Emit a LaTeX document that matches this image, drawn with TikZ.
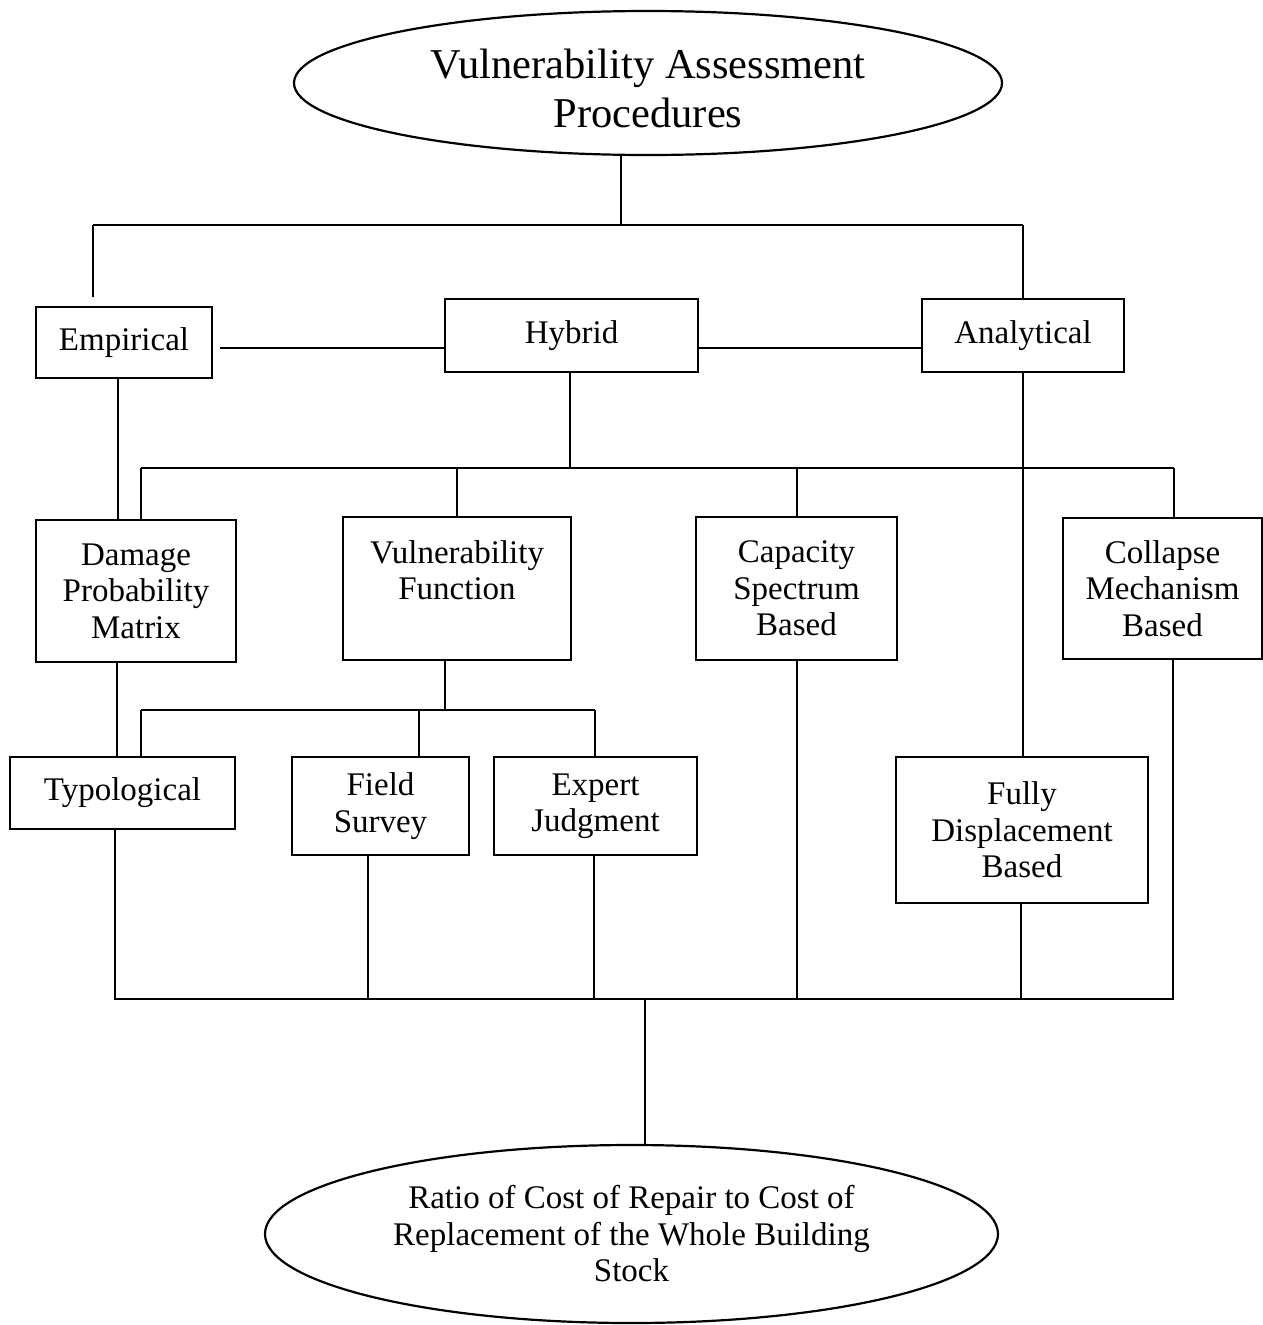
\documentclass[tikz,border=0pt]{standalone}
\usepackage{fontspec}
\setmainfont{Liberation Serif}
\usetikzlibrary{shapes.geometric}
\begin{document}
\begin{tikzpicture}[x=1pt,y=-1pt,
  box/.style={draw, rectangle, line width=2.8pt, inner sep=0pt, align=center,
    font=\fontsize{33}{36.5}\selectfont},
  oval/.style={draw, ellipse, line width=2.2pt, inner sep=0pt, align=center},
  conn/.style={line width=2.5pt}]
\useasboundingbox (0,0) rectangle (1263,1325);
\fill[white] (0,0) rectangle (1263,1325);

% ellipses
\node[oval, minimum width=708pt, minimum height=144pt,
  font=\fontsize{42.5}{49}\selectfont] (top) at (648,83) {\rule{0pt}{40pt}Vulnerability Assessment\\Procedures};
\node[oval, minimum width=733pt, minimum height=178pt,
  font=\fontsize{33}{36.5}\selectfont] (bot) at (631.5,1234) {Ratio of Cost of Repair to Cost of\\Replacement of the Whole Building\\Stock};

% level 1
\node[box, minimum width=176pt, minimum height=71pt] (emp) at (124,342.5) {Empirical};
\node[box, minimum width=253pt, minimum height=73pt] (hyb) at (571.5,335.5) {Hybrid};
\node[box, minimum width=202pt, minimum height=73pt] (ana) at (1023,335.5) {Analytical};

% level 2
\node[box, minimum width=200pt, minimum height=142pt] (dpm) at (136,591) {Damage\\Probability\\Matrix};
\node[box, minimum width=228pt, minimum height=143pt] (vf) at (457,588.5) {Vulnerability\\Function\\\mbox{}};
\node[box, minimum width=201pt, minimum height=143pt] (csb) at (796.5,588.5) {Capacity\\Spectrum\\Based};
\node[box, minimum width=199pt, minimum height=141pt] (cmb) at (1162.5,588.5) {Collapse\\Mechanism\\Based};

% level 3
\node[box, minimum width=225pt, minimum height=72pt] (typ) at (122.5,793) {Typological};
\node[box, minimum width=177pt, minimum height=98pt] (fs) at (380.5,806) {Field\\Survey};
\node[box, minimum width=203pt, minimum height=98pt] (ej) at (595.5,806) {Expert\\Judgment};
\node[box, minimum width=252pt, minimum height=146pt] (fdb) at (1022,830) {Fully\\Displacement\\Based};

% junction coordinates
\coordinate (jA) at (621,225);
\coordinate (jAL) at (93,225);
\coordinate (jAR) at (1023,225);
\coordinate (hl) at (0,348);
\coordinate (jB) at (570,468);
\coordinate (jBL) at (141,468);
\coordinate (jBR) at (1174,468);
\coordinate (jC) at (445,710);
\coordinate (jCL) at (141,710);
\coordinate (jCR) at (595,710);
\coordinate (jDL) at (115,999);
\coordinate (jDR) at (1173,999);
\coordinate (jD) at (645,999);

% top tree
\draw[conn] (top.south -| jA) -- (jA);
\draw[conn] (jAL) -- (jAR);
\draw[conn] (jAL) -- ([yshift=9pt]emp.north -| jAL);
\draw[conn] (jAR) -- (ana.north -| jAR);

% horizontal links between level 1
\draw[conn] ([xshift=7pt]emp.east |- hl) -- (hyb.west |- hl);
\draw[conn] (hyb.east |- hl) -- (ana.west |- hl);

% empirical to damage probability matrix
\draw[conn] (emp.south -| 118,0) -- (dpm.north -| 118,0);

% hybrid tree
\draw[conn] (hyb.south -| jB) -- (jB);
\draw[conn] (jBL) -- (jBR);
\draw[conn] (jBL) -- (dpm.north -| jBL);
\draw[conn] (jBL -| vf.north) -- (vf.north);
\draw[conn] (jBL -| 797,0) -- (csb.north -| 797,0);
\draw[conn] (jBR) -- (cmb.north -| jBR);

% analytical to fully displacement
\draw[conn] (ana.south) -- (ana.south |- fdb.north);

% damage matrix to typological
\draw[conn] (dpm.south -| 117,0) -- (typ.north -| 117,0);

% vulnerability function tree
\draw[conn] (vf.south -| jC) -- (jC);
\draw[conn] (jCL) -- (jCR);
\draw[conn] (jCL) -- (typ.north -| jCL);
\draw[conn] (jCL -| 419,0) -- (fs.north -| 419,0);
\draw[conn] (jCR) -- (ej.north -| jCR);

% bottom bus
\draw[conn] (typ.south -| jDL) -- (jDL) -- (jDR) -- (cmb.south -| jDR);
\draw[conn] (fs.south -| 368,0) -- (jDL -| 368,0);
\draw[conn] (ej.south -| 594,0) -- (jDL -| 594,0);
\draw[conn] (csb.south -| 797,0) -- (jDL -| 797,0);
\draw[conn] (fdb.south -| 1021,0) -- (jDL -| 1021,0);
\draw[conn] (jD) -- (bot.north -| jD);
\end{tikzpicture}
\end{document}
